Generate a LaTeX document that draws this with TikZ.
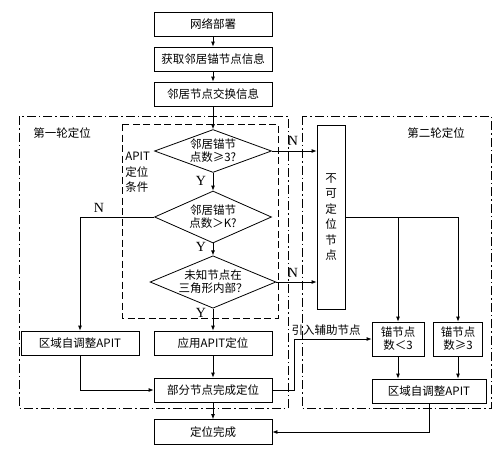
\documentclass[tikz,border=0pt]{standalone}
\usepackage{fontspec}
\setmainfont{Noto Sans CJK SC}
\newfontfamily\ynfont{Liberation Serif}
\usetikzlibrary{shapes.geometric,arrows.meta}

\begin{document}
\begin{tikzpicture}[x=1pt,y=-1pt,line width=0.8pt,
  >={Latex[length=5pt,width=4pt]},
  every node/.style={font=\fontsize{11.5}{13}\selectfont},
  stepbox/.style={draw,minimum width=118pt,minimum height=24pt,inner sep=1pt},
  decide/.style={draw,diamond,aspect=2.4,inner sep=0pt,align=center,minimum width=117pt},
  yn/.style={font=\ynfont\fontsize{14}{14}\selectfont,inner sep=0pt},
  frame/.style={dash pattern=on 9pt off 3pt on 1.5pt off 3pt,line width=0.7pt},
  apitframe/.style={dash pattern=on 7pt off 3.5pt,line width=0.8pt}]
\useasboundingbox (0,0) rectangle (500,450);

% Frames
\draw[frame] (19,116) rectangle (288,408);
\draw[frame] (302,116) rectangle (491,408);
\draw[apitframe] (122,124) rectangle (278,318);
\node (round1) at (62,133) {第一轮定位};
\node (round2) at (436,133) {第二轮定位};
\node[anchor=north west,align=left,inner sep=0pt,font=\fontsize{11.5}{15.5}\selectfont] (apitcond) at (125,152) {APIT\\定位\\条件};

% Preparation
\node[stepbox] (deploy) at (213,24) {网络部署};
\node[stepbox] (fetch) at (213,59) {获取邻居锚节点信息};
\node[stepbox] (swap) at (213,94) {邻居节点交换信息};

% APIT conditions
\node[decide,minimum height=42pt] (dia1) at (213,151) {邻居锚节\\点数≥3?};
\node[decide,minimum height=52pt] (dia2) at (213,217) {邻居锚节\\点数＞K?};
\node[decide,minimum height=51pt] (dia3) at (213,282) {未知节点在\\三角形内部？};

% First round
\node[stepbox] (adjL) at (80,343) {区域自调整APIT};
\node[stepbox] (apply) at (213,343) {应用APIT定位};
\node[stepbox] (part) at (213,390) {部分节点完成定位};
\node[stepbox,minimum height=25pt] (done) at (213,432) {定位完成};

% Second round
\node[draw,minimum width=28pt,minimum height=184pt,align=center,inner sep=0pt,font=\fontsize{11.5}{15.5}\selectfont] (unloc) at (331,217) {不\\可\\定\\位\\节\\点};
\node[draw,minimum width=52pt,minimum height=34pt,align=center,inner sep=1pt] (anc1) at (398,339) {锚节点\\数＜3};
\node[draw,minimum width=49pt,minimum height=34pt,align=center,inner sep=1pt] (anc2) at (458,339) {锚节点\\数≥3};
\node[draw,minimum width=114pt,minimum height=24pt,inner sep=1pt] (adjR) at (429,391) {区域自调整APIT};

% Connections
\draw[->] (deploy) -- (fetch);
\draw[->] (fetch) -- (swap);
\draw[->] (swap) -- (dia1);
\draw[->] (dia1) -- (dia2);
\draw[->] (dia2) -- (dia3);
\draw[->] (dia3) -- (apply);
\draw[->] (apply) -- (part);
\draw[->] (part) -- (done);
\draw[->] (dia2.west) -| (adjL.north);
\draw[->] (adjL.south) |- (part.west);
\draw[->] (dia1.east) -- (dia1.east -| unloc.west);
\draw[->] (dia3.east) -- (dia3.east -| unloc.west);
\draw[->] (unloc.east) -| (anc2.north);
\draw[->] (unloc.east -| anc1.north) -- (anc1.north);
\draw[->] (anc1.south) -- (anc1.south |- adjR.north);
\draw[->] (anc2.south) -- (anc2.south |- adjR.north);
\draw[->] (adjR.south) |- (done.east);
\draw[->] (part.east) -- ++(22,0) |- (anc1.west);

% Labels
\node[yn] (y1) at (201,181) {Y};
\node[yn] (y2) at (201,247) {Y};
\node[yn] (y3) at (201,313) {Y};
\node[yn] (n1) at (99,208) {N};
\node[yn] (n2) at (293,141) {N};
\node[yn] (n3) at (293,273) {N};
\node (auxlbl) at (326,330) {引入辅助节点};
\end{tikzpicture}
\end{document}
